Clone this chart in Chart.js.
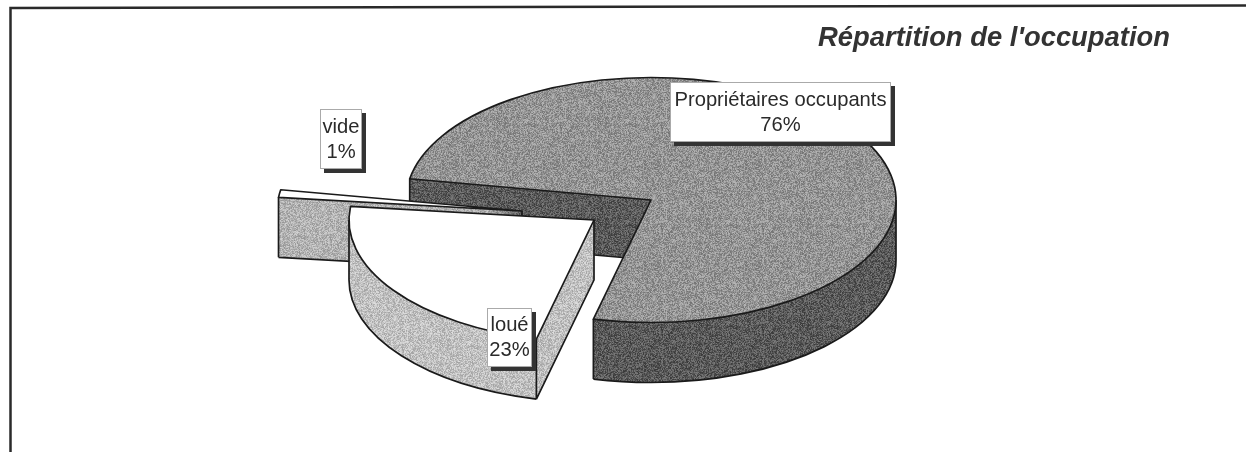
<!DOCTYPE html>
<html><head><meta charset="utf-8">
<style>html,body{margin:0;padding:0;background:#fff}#w{position:relative;width:1246px;height:452px}</style>
<script src="https://cdn.jsdelivr.net/npm/chart.js@4"></script>
</head><body><div id="w"><canvas id="c" width="1246" height="452"></canvas></div>
<script>
const categories = ['Propriétaires occupants', 'loué', 'vide'];
const values = [76, 23, 1];
const chartTitle = "Répartition de l'occupation";

const SQUASH = 0.5, DEPTH = 60;
const explode = [[0, 0], [-57, 20], [-129, 11]];
const drawOrder = [0, 2, 1];
const labelBoxes = [[670, 82, 221, 60], [487, 308, 45, 59], [320, 109, 42, 60]];

function texture(mean, amp) {
  const n = 101, t = document.createElement('canvas');
  t.width = t.height = n;
  const g = t.getContext('2d'), im = g.createImageData(n, n);
  let s = 12345;
  for (let i = 0; i < n * n; i++) {
    s = (s * 1103515245 + 12345) & 0x7fffffff;
    const v = mean + (((s >> 16) & 255) / 255 - 0.5) * 2 * amp;
    im.data[i * 4] = im.data[i * 4 + 1] = im.data[i * 4 + 2] = v;
    im.data[i * 4 + 3] = 255;
  }
  g.putImageData(im, 0, 0);
  return g.createPattern(t, 'repeat');
}
const topFill = [texture(148, 34), '#ffffff', '#ffffff'];
const sideFill = [texture(90, 34), texture(192, 30), texture(178, 30)];

function point(a, i, ang, d) {
  const [ex, ey] = explode[i];
  return [a.x + ex + Math.cos(ang) * a.outerRadius,
          a.y + ey + d + Math.sin(ang) * a.outerRadius * SQUASH];
}
function drawLayer(ctx, a, i, d, fill) {
  const o = a.options;
  if (fill instanceof CanvasPattern) {
    fill.setTransform(new DOMMatrix().scale(1, 1 / SQUASH).translate(0, -d));
  }
  a.options = {...o, backgroundColor: fill, borderWidth: 0};
  ctx.save();
  ctx.translate(explode[i][0] + a.x, explode[i][1] + d + a.y);
  ctx.scale(1, SQUASH);
  ctx.translate(-a.x, -a.y);
  a.draw(ctx);
  ctx.restore();
  a.options = o;
}
function strokeSolid(ctx, a, i) {
  const s = a.startAngle, e = a.endAngle, r = a.outerRadius;
  const [ex, ey] = explode[i];
  const cx = a.x + ex, cy = a.y + ey;
  ctx.beginPath();
  // bottom rim: the part of the arc facing the viewer
  for (const k of [0, 1, 2]) {
    const lo = Math.max(s, k * 2 * Math.PI), hi = Math.min(e, k * 2 * Math.PI + Math.PI);
    if (hi > lo) {
      ctx.moveTo(...point(a, i, lo, DEPTH));
      ctx.ellipse(cx, cy + DEPTH, r, r * SQUASH, 0, lo, hi);
    }
  }
  const vertical = ang => {
    ctx.moveTo(...point(a, i, ang, 0));
    ctx.lineTo(...point(a, i, ang, DEPTH));
  };
  // the wall on the start side faces the viewer
  if (Math.sin(s - Math.PI / 2) > 0) {
    ctx.moveTo(...point(a, i, s, DEPTH));
    ctx.lineTo(cx, cy + DEPTH);
    ctx.lineTo(cx, cy);
    vertical(s);
  }
  if (Math.sin(e) > 0) vertical(e);
  for (let k = 0; k < 6; k++) {
    const x = k * Math.PI;
    if (x > s && x < e) vertical(x);
  }
  ctx.stroke();
}
function strokeTop(ctx, a, i) {
  const [ex, ey] = explode[i];
  const cx = a.x + ex, cy = a.y + ey;
  ctx.beginPath();
  ctx.moveTo(cx, cy);
  ctx.lineTo(...point(a, i, a.startAngle, 0));
  ctx.ellipse(cx, cy, a.outerRadius, a.outerRadius * SQUASH, 0, a.startAngle, a.endAngle);
  ctx.closePath();
  ctx.stroke();
}

const pie3d = {
  id: 'pie3d',
  beforeDraw(chart) {
    const ctx = chart.ctx;
    ctx.save();
    ctx.fillStyle = '#fff';
    ctx.fillRect(0, 0, chart.width, chart.height);
    ctx.strokeStyle = '#2a2a2a';
    ctx.lineWidth = 2.5;
    ctx.beginPath();
    ctx.moveTo(10.5, chart.height);
    ctx.lineTo(10.5, 8);
    ctx.lineTo(chart.width, 5.5);
    ctx.stroke();
    ctx.restore();
  },
  beforeDatasetsDraw(chart) {
    const ctx = chart.ctx, arcs = chart.getDatasetMeta(0).data;
    ctx.save();
    ctx.lineWidth = 1.7;
    ctx.strokeStyle = '#1a1a1a';
    ctx.lineJoin = 'round';
    for (const i of drawOrder) {
      const a = arcs[i];
      for (let d = DEPTH; d > 0; d--) drawLayer(ctx, a, i, d, sideFill[i]);
      strokeSolid(ctx, a, i);
      drawLayer(ctx, a, i, 0, topFill[i]);
      strokeTop(ctx, a, i);
    }
    ctx.restore();
    return false;
  },
  afterDraw(chart) {
    const ctx = chart.ctx;
    ctx.save();
    ctx.textAlign = 'center';
    ctx.textBaseline = 'middle';
    ctx.font = '20.2px "Liberation Sans", Arial, sans-serif';
    categories.forEach((name, i) => {
      const [x, y, w, h] = labelBoxes[i];
      ctx.fillStyle = '#333';
      ctx.fillRect(x + 4, y + 4, w, h);
      ctx.fillStyle = '#fff';
      ctx.fillRect(x, y, w, h);
      ctx.strokeStyle = '#aaa';
      ctx.lineWidth = 1;
      ctx.strokeRect(x + .5, y + .5, w - 1, h - 1);
      ctx.fillStyle = '#2a2a2a';
      ctx.fillText(name, x + w / 2, y + h / 2 - 12);
      ctx.fillText(values[i] + '%', x + w / 2, y + h / 2 + 13);
    });
    ctx.restore();
  }
};

new Chart(document.getElementById('c'), {
  type: 'pie',
  data: { labels: categories, datasets: [{ data: values, backgroundColor: topFill, borderWidth: 0 }] },
  plugins: [pie3d],
  options: {
    responsive: false,
    animation: false,
    rotation: 280,
    radius: 245,
    layout: { padding: { left: 132, right: 76, top: 0, bottom: 102 } },
    plugins: {
      legend: { display: false },
      tooltip: { enabled: false },
      title: {
        display: true, text: chartTitle, align: 'end', color: '#333',
        font: { family: '"Liberation Sans", Arial, sans-serif', size: 27.4, weight: 'bold', style: 'italic', lineHeight: 1 },
        padding: { top: 25, bottom: -2.4 }
      }
    }
  }
});
</script></body></html>
